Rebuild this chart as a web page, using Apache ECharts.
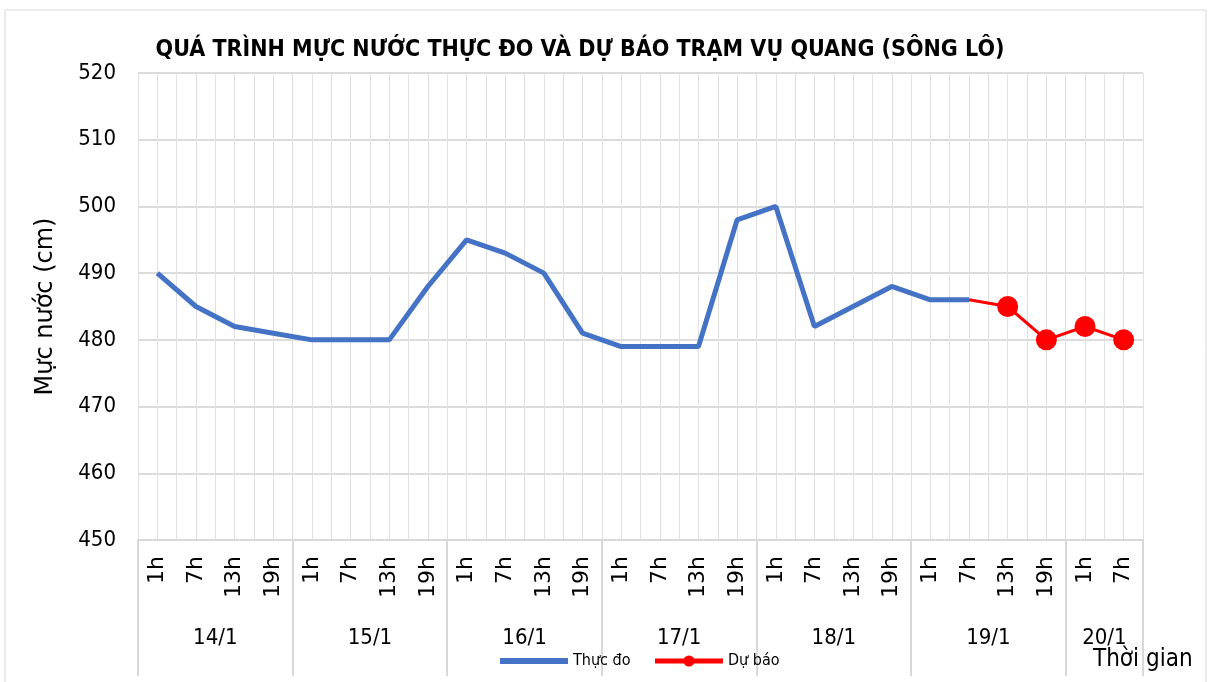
<!DOCTYPE html>
<html><head><meta charset="utf-8">
<script src="https://cdn.jsdelivr.net/npm/echarts@6/dist/echarts.min.js"></script>
<style>html,body{margin:0;padding:0;background:#fff}#c{width:1215px;height:682px}</style>
</head><body><div id="c"></div>
<script>
const hours = ['1h','7h','13h','19h','1h','7h','13h','19h','1h','7h','13h','19h','1h','7h','13h','19h','1h','7h','13h','19h','1h','7h','13h','19h','1h','7h'];
const groupLabels = ['14/1','15/1','16/1','17/1','18/1','19/1','20/1'];
const groupBounds = [0,4,8,12,16,20,24,26];
const observed = [490,485,482,481, 480,480,480,488, 495,493,490,481, 479,479,479,498, 500,482,485,488, 486,486,null,null, null,null];
const forecast = [null,null,null,null, null,null,null,null, null,null,null,null, null,null,null,null, null,null,null,null, null,486,485,480, 482,480];
const yTicks = [450,460,470,480,490,500,510,520];

const FONT = '"DejaVu Sans Condensed", "DejaVu Sans", sans-serif';
const FONTW = '"DejaVu Sans", sans-serif';
const groupCenters = groupBounds.slice(0,-1).map((b,i)=>(b+groupBounds[i+1])/2);

const chart = echarts.init(document.getElementById('c'));
chart.setOption({
  animation:false,
  backgroundColor:'#fff',
  title:{text:'QUÁ TRÌNH MỰC NƯỚC THỰC ĐO VÀ DỰ BÁO TRẠM VỤ QUANG (SÔNG LÔ)',left:575,textAlign:'center',top:34,
    textStyle:{fontFamily:FONT,fontWeight:'bold',fontSize:23,color:'#000'}},
  graphic:[
    {type:'rect',shape:{x:5,y:10,width:1201,height:680},style:{fill:null,stroke:'#d9d9d9',lineWidth:1},silent:true,z:-1},
    {type:'text',left:1093,top:648,style:{text:'Thời gian',fontFamily:FONT,fontSize:24,fill:'#000'}}
  ],
  legend:{left:497,top:653,padding:0,itemWidth:68,itemHeight:14,itemGap:22,
    textStyle:{fontFamily:FONT,fontSize:16,color:'#000'},
    data:[{name:'Thực đo',itemStyle:{opacity:0},lineStyle:{width:6}},
          {name:'Dự báo',lineStyle:{width:5}}]},
  grid:{left:138,right:72,top:73,bottom:142},
  xAxis:[
    {type:'category',data:hours,boundaryGap:true,position:'bottom',
     axisLine:{show:true,lineStyle:{color:'#d9d9d9',width:2}},axisTick:{show:false},
     axisLabel:{rotate:90,interval:0,margin:16,fontFamily:FONTW,fontSize:22,color:'#000'},
     splitLine:{show:false}},
    {type:'value',min:0,max:26,position:'bottom',
     axisLine:{show:false},
     axisTick:{show:true,customValues:groupBounds,length:136,inside:false,lineStyle:{color:'#d9d9d9',width:2}},
     axisLabel:{show:true,customValues:groupCenters,margin:87,fontFamily:FONT,fontSize:22,color:'#000',
       formatter:(v)=>groupLabels[groupCenters.indexOf(v)]},
     splitLine:{show:false}},
    {type:'value',min:0,max:52,interval:1,position:'top',
     axisLine:{show:false},axisTick:{show:false},axisLabel:{show:false},
     splitLine:{show:true,lineStyle:{color:'#e0e0e0',width:1}}}
  ],
  yAxis:{type:'value',min:450,max:520,interval:10,
    name:'Mực nước (cm)',nameLocation:'middle',nameGap:80,nameRotate:90,
    nameTextStyle:{fontFamily:FONTW,fontSize:24,color:'#000'},
    axisLine:{show:false},axisTick:{show:false},
    axisLabel:{margin:22,fontFamily:FONT,fontSize:22,color:'#000',formatter:(v)=>yTicks.includes(v)?String(v):''},
    splitLine:{show:true,lineStyle:{color:'#d0d0d0',width:1.5}}},
  series:[
    {name:'Thực đo',type:'line',xAxisIndex:0,data:observed,showSymbol:false,symbol:'none',
     lineStyle:{color:'#4472C4',width:5},itemStyle:{color:'#4472C4'},z:3},
    {name:'Dự báo',type:'line',xAxisIndex:0,symbol:'circle',
     data:forecast.map((v,i)=>v==null?null:{value:v,symbolSize:(i===21?0:21)}),
     lineStyle:{color:'#ff0000',width:3},itemStyle:{color:'#ff0000'},z:4}
  ]
});
</script></body></html>
